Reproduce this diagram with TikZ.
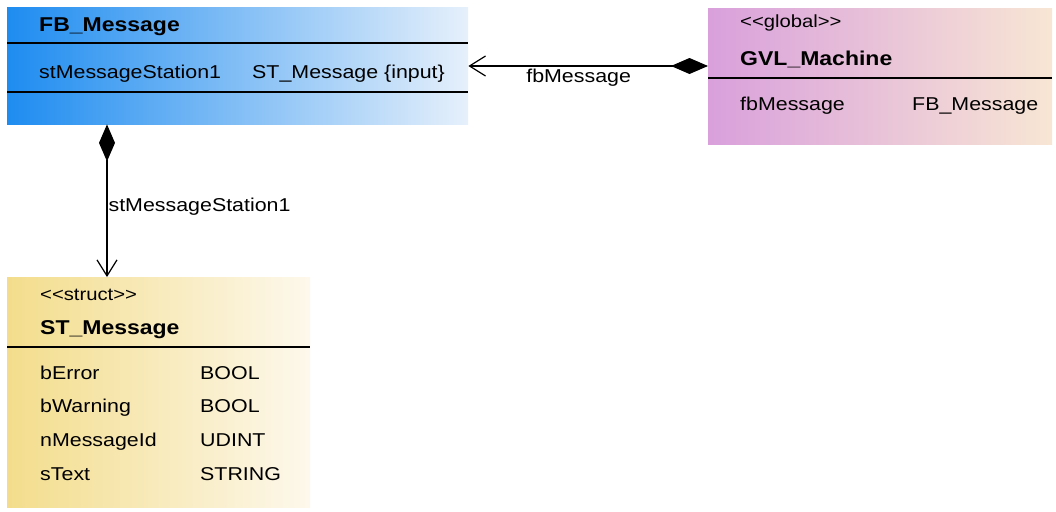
\documentclass[tikz,border=0pt]{standalone}
\usepackage{fontspec}
\setmainfont{Liberation Sans}[FakeStretch=1.15]
\usetikzlibrary{positioning,arrows.meta}
\definecolor{cFBl}{HTML}{1E8CF0}
\definecolor{cFBr}{HTML}{E6F0FB}
\definecolor{cGVLl}{HTML}{D9A0DC}
\definecolor{cGVLr}{HTML}{F8E6D4}
\definecolor{cSTl}{HTML}{F3DD8C}
\definecolor{cSTr}{HTML}{FDF8EC}
\newcommand{\umlfont}{\fontsize{18.6}{20}\selectfont}
\tikzset{
  cls/.style={draw=none, inner sep=0pt, anchor=north west},
  fbcls/.style={cls, left color=cFBl, right color=cFBr},
  gvlcls/.style={cls, left color=cGVLl, right color=cGVLr},
  stcls/.style={cls, left color=cSTl, right color=cSTr},
  txt/.style={anchor=base west, inner sep=0pt, font=\umlfont},
  ttl/.style={txt, font=\fontsize{20}{22}\selectfont\bfseries},
  stereo/.style={txt, font=\fontsize{17.6}{19}\selectfont},
  sep/.style={line width=1.5pt},
  comp/.style={line width=1.2pt,
               {Diamond[length=37pt,width=16pt]}-{Straight Barb[length=16pt,width=20pt]}},
  lbl/.style={font=\umlfont, inner sep=0pt},
}

\begin{document}
\begin{tikzpicture}[x=1pt,y=-1pt]
  \useasboundingbox (0,0) rectangle (1056,511);
  % FB_Message
  \node[fbcls, minimum width=461pt, minimum height=117pt] (fb) at (7,7) {};
  \node[ttl] (fbname) at (39,32) {FB\_Message};
  \draw[sep] (fb.west |- 0,43) -- (fb.east |- 0,43);
  \node[txt] (fbvar) at (39,78) {stMessageStation1};
  \node[txt] (fbtype) at (252,78) {ST\_Message \{input\}};
  \draw[sep] (fb.west |- 0,92) -- (fb.east |- 0,92);
  % GVL_Machine
  \node[gvlcls, minimum width=344pt, minimum height=136pt] (gvl) at (708,8) {};
  \node[stereo] (gvlst) at (740,28) {<{}<global>{}>};
  \node[ttl] (gvlname) at (740,66) {GVL\_Machine};
  \draw[sep] (gvl.west |- 0,78) -- (gvl.east |- 0,78);
  \node[txt] (gvlvar) at (740,110) {fbMessage};
  \node[txt] (gvltype) at (912,110) {FB\_Message};
  % ST_Message
  \node[stcls, minimum width=303pt, minimum height=230pt] (st) at (7,277) {};
  \node[stereo] (stst) at (40,300) {<{}<struct>{}>};
  \node[ttl] (stname) at (40,334) {ST\_Message};
  \draw[sep] (st.west |- 0,347) -- (st.east |- 0,347);
  \foreach \n/\t [count=\i] in {bError/BOOL, bWarning/BOOL, nMessageId/UDINT, sText/STRING} {
    \node[txt] (stvar\i) at (40,{345.3+33.7*\i}) {\n};
    \node[txt] (sttype\i) at (200,{345.3+33.7*\i}) {\t};
  }
  % connectors
  \coordinate (fbport) at (fb.east |- 0,66);
  \coordinate (gvlport) at (gvl.west |- fbport);
  \draw[comp] (gvlport) -- (fbport)
    node[lbl, pos=0.54, anchor=north, yshift=-2pt] (fbmsg) {fbMessage};
  \draw[comp] ([xshift=100pt]fb.south west) -- ([xshift=100pt]st.north west)
    node[lbl, pos=0.54, anchor=west, xshift=1pt] (stmsg) {stMessageStation1};
\end{tikzpicture}
\end{document}
